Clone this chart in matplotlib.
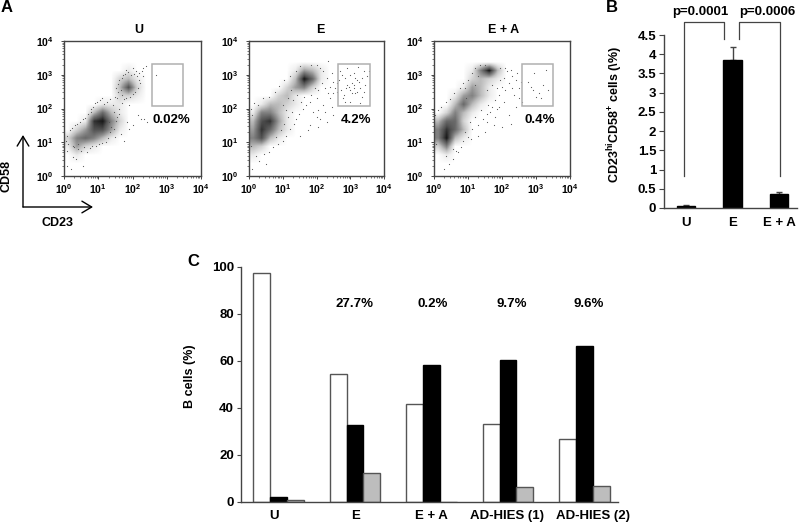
import matplotlib
matplotlib.use('Agg')
import matplotlib.pyplot as plt
from matplotlib.colors import PowerNorm
import numpy as np

plt.rcParams['font.family'] = ['Liberation Sans', 'DejaVu Sans']
plt.rcParams['font.weight'] = 'bold'
plt.rcParams['mathtext.fontset'] = 'custom'
plt.rcParams['mathtext.bf'] = 'Liberation Sans:bold'
plt.rcParams['mathtext.rm'] = 'Liberation Sans:bold'
plt.rcParams['mathtext.default'] = 'bf'

W, H = 800, 525
DARK = '#444444'

# flow panels: cell density per quarter decade
# (each string is one CD58 row from 10^4 down to 10^0, each digit one CD23 column)
density_u = [
    '0000000000000000',
    '0000000000000000',
    '0000000000000000',
    '0000000100000000',
    '0000002310000000',
    '0000003720000000',
    '0000002210000000',
    '0000111000000000',
    '0003631000000000',
    '0018952000000000',
    '0247741000000000',
    '2565310000000000',
    '1421000000000000',
    '0100000000000000',
    '0000000000000000',
    '0000000000000000',
]
density_e = [
    '0000000000000000',
    '0000000000000000',
    '0000000000000000',
    '0000014310000000',
    '0000039610000000',
    '0000245200000000',
    '0002310000000000',
    '0133210000000000',
    '1553100000000000',
    '3784100000000000',
    '4863100000000000',
    '5731000000000000',
    '3200000000000000',
    '1000000000000000',
    '0000000000000000',
    '0000000000000000',
]
density_ea = [
    '0000000000000000',
    '0000000000000000',
    '0000000000000000',
    '0000159300000000',
    '0000232100000000',
    '0001431000000000',
    '0014531000000000',
    '0036310000000000',
    '0253100000000000',
    '3662000000000000',
    '5863000000000000',
    '5931000000000000',
    '2500000000000000',
    '0100000000000000',
    '0000000000000000',
    '0000000000000000',
]

# single cells outside the dense clouds, (log10 CD23, log10 CD58)
dots_u = [
    (0.1, 0.3), (0.2, 0.2), (0.35, 0.5), (0.55, 0.3), (0.1, 0.75), (0.3, 0.85), (0.4, 0.95), (0.25, 0.55),
    (0.8, 2.0), (1.35, 1.3), (1.5, 1.15), (1.65, 1.25), (1.75, 1.05), (1.85, 1.6), (1.9, 1.4), (2.0, 1.5),
    (2.15, 1.8), (2.25, 1.7), (2.35, 1.7), (2.42, 1.6), (2.1, 3.1), (2.0, 3.2), (1.8, 3.15), (1.55, 2.3),
    (1.6, 2.0), (1.7, 2.15), (1.9, 2.1), (2.3, 3.2), (2.4, 3.25), (2.7, 3.0), (1.7, 2.4), (1.55, 1.75),
    (1.45, 1.9), (1.3, 1.6), (0.05, 1.05), (0.08, 1.2), (0.12, 0.95), (0.18, 1.35), (0.22, 1.42), (0.27, 0.9),
    (0.32, 1.5), (0.38, 1.55), (0.42, 0.8), (0.47, 1.6), (0.5, 0.75), (0.55, 1.68), (0.58, 0.85), (0.62, 1.72),
    (0.68, 0.72), (0.7, 1.85), (0.75, 0.82), (0.78, 1.9), (0.82, 0.9), (0.85, 2.05), (0.9, 2.15), (0.92, 0.88),
    (0.97, 2.2), (1.02, 0.95), (1.05, 2.25), (1.1, 0.98), (1.12, 2.3), (1.18, 2.12), (1.22, 1.02), (1.25, 2.2),
    (1.28, 1.12), (1.33, 2.28), (1.38, 1.45), (1.42, 2.1), (1.46, 1.38), (1.5, 2.35), (1.52, 1.62), (1.58, 2.48),
    (1.62, 1.85), (1.66, 2.55), (1.68, 2.9), (1.72, 3.0), (1.75, 2.28), (1.78, 3.02), (1.82, 2.32), (1.88, 3.08),
    (1.92, 2.34), (1.95, 2.98), (2.02, 2.42), (2.05, 3.02), (2.08, 2.48), (2.12, 2.95), (2.16, 2.62), (2.2, 3.05),
    (2.22, 2.75), (2.28, 3.12), (1.57, 2.72), (1.52, 2.62), (1.6, 2.85), (2.18, 2.85), (2.32, 2.95),
]
dots_e = [
    (0.1, 0.2), (0.3, 0.45), (0.5, 0.35), (0.2, 0.6), (2.1, 1.7), (2.3, 1.6), (2.4, 2.3), (1.8, 1.5),
    (1.9, 1.9), (2.05, 1.45), (2.2, 2.1), (2.5, 1.8), (2.6, 2.5), (1.5, 1.2), (1.6, 2.0), (1.75, 1.35),
    (2.0, 1.75), (2.35, 3.4), (2.7, 3.1), (2.8, 2.4), (2.85, 2.9), (2.9, 3.2), (3.0, 2.2), (3.05, 2.75),
    (3.1, 3.05), (3.15, 2.45), (3.2, 2.85), (3.3, 2.6), (3.35, 2.35), (3.4, 3.1), (3.45, 2.7), (2.72, 2.55),
    (2.95, 2.65), (3.25, 2.8), (3.1, 2.6), (2.85, 2.2), (3.05, 2.45), (3.22, 3.22), (2.78, 2.3), (3.4, 2.5),
    (2.98, 3.0), (3.15, 2.9), (3.3, 2.15), (2.68, 2.85), (3.5, 2.95), (3.55, 3.1), (2.9, 2.7), (3.0, 2.55),
    (3.12, 2.7), (3.2, 2.5), (3.35, 2.9), (2.75, 3.0), (2.88, 2.6), (2.45, 3.05), (2.5, 2.8), (2.55, 2.6),
    (2.6, 2.75), (2.3, 2.9), (2.2, 3.1), (2.1, 3.2), (2.4, 2.65), (2.48, 2.45), (2.25, 2.6), (2.35, 2.45),
    (2.15, 2.75), (2.05, 2.55), (2.0, 2.3), (1.95, 2.6), (1.85, 2.4), (1.8, 2.2), (1.7, 2.1), (1.62, 2.35),
    (1.55, 2.2), (1.48, 1.85), (1.4, 1.7), (1.32, 1.55), (1.28, 1.9), (1.2, 1.4), (1.15, 1.75), (1.1, 1.2),
    (1.05, 1.55), (1.0, 1.05), (0.95, 1.35), (0.85, 0.95), (0.8, 1.15), (0.7, 0.85), (0.6, 0.7), (0.45, 0.65),
    (0.05, 0.9), (0.08, 1.8), (0.05, 2.0), (0.15, 2.15), (0.28, 2.1), (0.4, 2.3), (0.6, 2.35), (0.78, 2.5),
    (0.9, 2.68), (1.05, 2.85), (1.2, 2.95), (1.38, 3.1), (1.5, 3.25), (2.05, 1.95), (2.25, 1.9), (2.45, 2.05),
    (1.85, 3.3), (2.0, 3.28), (1.3, 2.25), (1.42, 2.4), (1.25, 2.55), (1.15, 2.3), (1.0, 2.1), (1.1, 1.95),
]
dots_ea = [
    (0.3, 0.2), (0.45, 0.35), (0.55, 0.5), (0.35, 0.6), (0.7, 0.7), (0.9, 2.6), (1.3, 1.2), (1.55, 1.6),
    (1.75, 1.5), (2.0, 1.45), (2.2, 1.8), (1.65, 1.9), (1.85, 2.0), (2.05, 2.2), (2.25, 1.55), (2.4, 2.05),
    (2.5, 2.6), (1.9, 2.4), (2.6, 2.2), (2.75, 2.8), (2.9, 2.55), (3.0, 2.35), (3.1, 2.45), (3.2, 2.7),
    (3.3, 3.15), (3.35, 2.55), (2.85, 2.65), (3.15, 2.3), (2.95, 3.05), (0.55, 0.8), (1.1, 1.1), (1.5, 1.3),
    (1.8, 1.75), (2.35, 2.4), (2.2, 2.75), (2.3, 2.95), (2.4, 2.85), (2.45, 3.05), (2.15, 3.1), (2.05, 2.9),
    (2.1, 2.55), (2.0, 2.65), (1.95, 2.85), (1.9, 2.05), (1.8, 2.25), (1.72, 2.05), (1.6, 2.1), (1.55, 1.85),
    (1.45, 1.7), (1.38, 1.95), (1.28, 1.5), (1.2, 1.75), (1.12, 1.4), (1.05, 1.6), (1.0, 1.15), (0.9, 1.3),
    (0.85, 1.05), (0.78, 0.85), (0.65, 0.75), (0.05, 0.95), (0.02, 1.8), (0.12, 1.95), (0.2, 2.05), (0.35, 2.2),
    (0.48, 2.28), (0.6, 2.45), (0.75, 2.62), (0.85, 2.75), (1.0, 2.85), (1.12, 3.05), (1.22, 3.2), (1.35, 3.3),
    (1.5, 3.3), (1.95, 3.2), (2.1, 3.2), (2.25, 3.15), (1.3, 2.95), (1.2, 2.7), (0.95, 2.3), (1.55, 2.55),
    (1.7, 2.7), (1.85, 2.6), (2.3, 2.6), (2.5, 2.3), (2.55, 2.8),
]

panel_titles = ['U', 'E', 'E + A']
gate_labels = ['0.02%', '4.2%', '0.4%']

# panel B
b_labels = ['U', 'E', 'E + A']
b_values = [0.06, 3.85, 0.36]
b_errors = [0.01, 0.33, 0.05]
b_ticks = [0, 0.5, 1, 1.5, 2, 2.5, 3, 3.5, 4, 4.5]

# panel C
c_labels = ['U', 'E', 'E + A', 'AD-HIES (1)', 'AD-HIES (2)']
c_white = [97.5, 54.3, 41.5, 33.0, 26.8]
c_black = [2.0, 32.7, 58.5, 60.3, 66.2]
c_gray = [0.7, 12.5, 0.2, 6.5, 7.0]
c_pct = ['', '27.7%', '0.2%', '9.7%', '9.6%']


def px_axes(left, top, right, bottom):
  return fig.add_axes([left / W, 1 - bottom / H, (right - left) / W, (bottom - top) / H])


def style_spines(ax, names):
  for name in ax.spines:
    ax.spines[name].set_visible(name in names)
    ax.spines[name].set_color(DARK)
    ax.spines[name].set_linewidth(1.0)


fig = plt.figure(figsize=(W / 100, H / 100), dpi=100)

# ------------------------------------------------------------------------------
# panel A
# ------------------------------------------------------------------------------
flow_axes = [(64, 201), (249, 384), (434, 570)]
gates = [(2.57, 3.47), (2.64, 3.58), (2.59, 3.5)]
densities = [density_u, density_e, density_ea]
dots = [dots_u, dots_e, dots_ea]
minor = np.concatenate([np.log10(np.arange(2, 10)) + d for d in range(4)])

for i in range(3):
  ax = px_axes(flow_axes[i][0], 41, flow_axes[i][1], 176)
  grid = np.array([[int(c) for c in row] for row in densities[i]], dtype=float)
  ax.imshow(grid, extent=(0, 4, 0, 4), cmap='Greys', norm=PowerNorm(0.8, vmin=0, vmax=10),
            interpolation='bilinear', aspect='auto', zorder=1)
  xy = np.array(dots[i])
  ax.scatter(xy[:, 0], xy[:, 1], s=0.7, color='#555555', linewidths=0, zorder=2)
  g = gates[i]
  ax.add_patch(plt.Rectangle((g[0], 2.07), g[1] - g[0], 1.25, fill=False, ec='#b0b0b0', lw=1.1, zorder=3))
  ax.set_xlim(0, 4)
  ax.set_ylim(0, 4)
  ax.set_xticks(range(5))
  ax.set_yticks(range(5))
  ax.set_xticks(minor, minor=True)
  ax.set_yticks(minor, minor=True)
  labels = [r'$\mathbf{10^{%d}}$' % d for d in range(5)]
  ax.set_xticklabels(labels, fontsize=7.5)
  ax.set_yticklabels(labels, fontsize=7.5)
  ax.tick_params(which='major', length=2.5, width=0.7, color=DARK)
  ax.tick_params(axis='x', which='major', pad=2)
  ax.tick_params(axis='y', which='major', pad=5)
  ax.tick_params(which='minor', length=1.5, width=0.5, color=DARK)
  style_spines(ax, ['left', 'right', 'top', 'bottom'])

# ------------------------------------------------------------------------------
# panel B
# ------------------------------------------------------------------------------
ax = px_axes(664, 35, 797, 208)
ax.bar(range(3), b_values, width=0.39, color='black', edgecolor='black', zorder=2)
ax.errorbar(range(3), b_values, yerr=[[0, 0, 0], b_errors], fmt='none', ecolor=DARK,
            elinewidth=1, capsize=2, capthick=1, zorder=1)
ax.set_xlim((664 - 686) / 46.5, (797 - 686) / 46.5)
ax.set_ylim(0, 4.5)
ax.set_xticks([])
ax.set_yticks(b_ticks)
ax.set_yticklabels(['%g' % t for t in b_ticks], fontsize=9.5)
ax.tick_params(length=3.5, width=0.8, color=DARK, pad=2)
style_spines(ax, ['left', 'bottom'])

# ------------------------------------------------------------------------------
# panel C
# ------------------------------------------------------------------------------
ax = px_axes(241, 267, 618, 502)
pos = np.arange(5)
bar_w = 0.222
edge = '#555555'
ax.bar(pos - bar_w, c_white, width=bar_w, color='white', edgecolor=edge, linewidth=1)
ax.bar(pos, c_black, width=bar_w, color='black', edgecolor='black', linewidth=1)
ax.bar(pos + bar_w, c_gray, width=bar_w, color='#bdbdbd', edgecolor=edge, linewidth=1)
ax.set_xlim((241 - 278.5) / 76.5, (618 - 278.5) / 76.5)
ax.set_ylim(0, 100)
ax.set_xticks([])
ax.set_yticks(range(0, 101, 20))
ax.tick_params(labelsize=9.5, length=3, width=0.8, color=DARK, pad=2)
style_spines(ax, ['left', 'bottom'])

# ------------------------------------------------------------------------------
# labels and brackets, placed in picture pixels
# ------------------------------------------------------------------------------
over = fig.add_axes([0, 0, 1, 1])
over.set_xlim(0, W)
over.set_ylim(H, 0)
over.axis('off')
over.patch.set_alpha(0)

over.text(1, 8, 'A', fontsize=12, va='center')
over.text(606, 8, 'B', fontsize=12, va='center')
over.text(187, 262, 'C', fontsize=12, va='center')

for x, s in zip([139, 320, 504], panel_titles):
  over.text(x, 30, s, fontsize=9, ha='center', va='center')
for x, s in zip([171, 356, 540], gate_labels):
  over.text(x, 120, s, fontsize=9.5, ha='center', va='center')

head = dict(arrowstyle='->,head_length=0.5,head_width=0.3', color='black', lw=1, shrinkA=0, shrinkB=0, mutation_scale=14)
over.annotate('', xy=(23, 135), xytext=(23, 207), arrowprops=head)
over.annotate('', xy=(93, 207), xytext=(23, 207), arrowprops=head)
over.text(6, 176, 'CD58', fontsize=9, rotation=90, ha='center', va='center')
over.text(57, 223, 'CD23', fontsize=9, ha='center', va='center')

over.plot([684, 684, 724, 724], [176, 22, 22, 39], color=DARK, lw=0.9)
over.plot([739, 739, 780, 780], [39, 22, 22, 176], color=DARK, lw=0.9)
over.text(700, 12, 'p=0.0001', fontsize=9.5, ha='center', va='center')
over.text(767, 12, 'p=0.0006', fontsize=9.5, ha='center', va='center')
over.text(615, 115, r'CD23$^{\mathbf{hi}}$CD58$^{\mathbf{+}}$ cells (%)'.replace('%', r'\%'), fontsize=9, rotation=90,
          ha='center', va='center')
for x, s in zip([686, 733, 779], b_labels):
  over.text(x, 223, s, fontsize=9.5, ha='center', va='center')

over.text(190, 376, 'B cells (%)', fontsize=9, rotation=90, ha='center', va='center')
for x, s in zip([354, 433, 512, 589], c_pct[1:]):
  over.text(x, 304, s, fontsize=9.5, ha='center', va='center')
for x, s in zip([274, 356, 431, 507, 593], c_labels):
  over.text(x, 516, s, fontsize=9.5, ha='center', va='center')

fig.savefig('out.png', dpi=100)
